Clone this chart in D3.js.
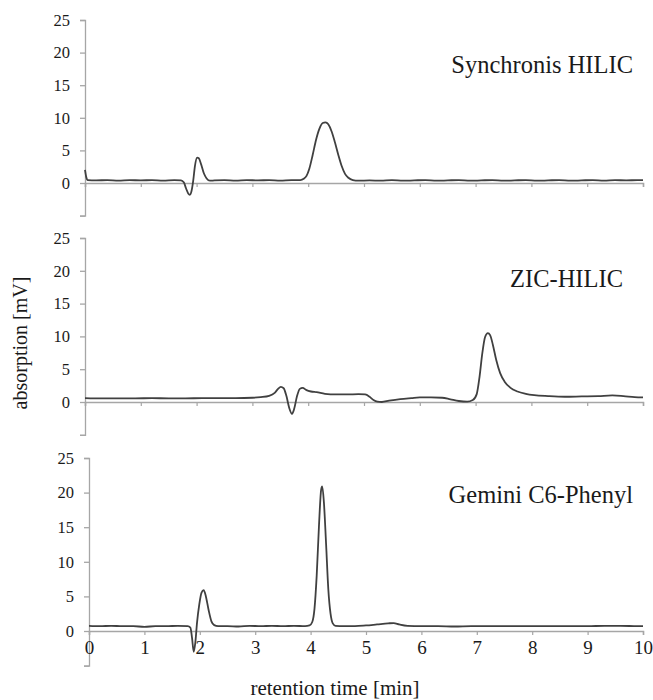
<!DOCTYPE html>
<html>
<head>
<meta charset="utf-8">
<script src="https://cdn.jsdelivr.net/npm/d3@7"></script>
<style>
  html, body { margin: 0; padding: 0; background: #fff; }
  svg { display: block; }
  svg text { font-family: "Liberation Serif", "Times New Roman", "DejaVu Serif", serif !important; }
</style>
</head>
<body>
<svg id="chart" width="653" height="700"></svg>
<script>
// ---------- data (retention time [min], absorption [mV]) ----------
const titles = ["Synchronis HILIC", "ZIC-HILIC", "Gemini C6-Phenyl"];
const xTickValues = [0, 1, 2, 3, 4, 5, 6, 7, 8, 9, 10];
const yTickValues = [-5, 0, 5, 10, 15, 20, 25];
const yDomain = [-5, 25];
const xDomain = [0, 10];

const synchronis = [
  [0.00, 2.0], [0.02, 1.0], [0.05, 0.45], [0.2, 0.4], [0.4, 0.45], [0.6, 0.35], [0.8, 0.45],
  [1.0, 0.4], [1.2, 0.45], [1.4, 0.35], [1.6, 0.45], [1.72, 0.4], [1.77, 0.1], [1.81, -0.8],
  [1.85, -1.6], [1.88, -1.8], [1.91, -1.2], [1.94, 0.4], [1.97, 2.6], [2.01, 3.9], [2.04, 3.8],
  [2.08, 2.9], [2.13, 1.5], [2.18, 0.7], [2.24, 0.35], [2.32, 0.4], [2.5, 0.45], [2.7, 0.35],
  [2.9, 0.45], [3.1, 0.4], [3.3, 0.45], [3.5, 0.35], [3.7, 0.45], [3.86, 0.45], [3.92, 0.65],
  [3.97, 1.1], [4.02, 2.2], [4.08, 4.3], [4.14, 6.6], [4.2, 8.3], [4.26, 9.2], [4.31, 9.3],
  [4.36, 9.0], [4.42, 7.9], [4.48, 6.2], [4.54, 4.3], [4.6, 2.6], [4.66, 1.4], [4.72, 0.8],
  [4.8, 0.45], [4.9, 0.35], [5.1, 0.4], [5.3, 0.35], [5.5, 0.45], [5.7, 0.35], [5.9, 0.4],
  [6.1, 0.45], [6.3, 0.35], [6.5, 0.4], [6.7, 0.45], [6.9, 0.35], [7.1, 0.4], [7.3, 0.45],
  [7.5, 0.35], [7.7, 0.4], [7.9, 0.45], [8.1, 0.35], [8.3, 0.4], [8.5, 0.45], [8.7, 0.35],
  [8.9, 0.4], [9.1, 0.45], [9.3, 0.35], [9.5, 0.45], [9.7, 0.4], [9.9, 0.45], [10.0, 0.45]
];

const zic = [
  [0.0, 0.6], [0.3, 0.55], [0.6, 0.55], [0.9, 0.55], [1.2, 0.6], [1.5, 0.55], [1.8, 0.55],
  [2.1, 0.6], [2.4, 0.6], [2.7, 0.6], [3.0, 0.65], [3.15, 0.75], [3.3, 0.95], [3.4, 1.4],
  [3.46, 2.0], [3.51, 2.3], [3.56, 2.1], [3.61, 0.9], [3.66, -0.9], [3.71, -1.8], [3.75, -1.0],
  [3.8, 0.9], [3.85, 2.0], [3.9, 2.15], [3.97, 1.8], [4.05, 1.6], [4.15, 1.5], [4.3, 1.25],
  [4.5, 1.15], [4.7, 1.15], [4.9, 1.2], [5.02, 1.15], [5.1, 0.8], [5.17, 0.3], [5.24, 0.05],
  [5.32, 0.0], [5.45, 0.2], [5.65, 0.45], [5.85, 0.6], [6.0, 0.7], [6.2, 0.7], [6.4, 0.65],
  [6.55, 0.4], [6.7, 0.15], [6.85, 0.05], [6.95, 0.3], [7.02, 1.2], [7.07, 3.8], [7.12, 7.4],
  [7.17, 9.9], [7.22, 10.5], [7.26, 10.2], [7.31, 8.7], [7.37, 6.4], [7.44, 4.4], [7.52, 3.1],
  [7.62, 2.2], [7.75, 1.6], [7.9, 1.25], [8.05, 1.05], [8.3, 0.9], [8.6, 0.8], [8.9, 0.85],
  [9.2, 0.9], [9.45, 1.0], [9.65, 0.9], [9.85, 0.75], [10.0, 0.7]
];

const gemini = [
  [0.0, 0.75], [0.2, 0.7], [0.4, 0.75], [0.6, 0.7], [0.8, 0.7], [1.0, 0.6], [1.2, 0.7],
  [1.4, 0.7], [1.6, 0.75], [1.78, 0.7], [1.83, 0.5], [1.86, -1.0], [1.89, -3.0], [1.92, -1.6],
  [1.95, 1.2], [1.99, 3.8], [2.03, 5.5], [2.07, 5.9], [2.11, 5.0], [2.16, 3.0], [2.21, 1.4],
  [2.26, 0.85], [2.33, 0.7], [2.5, 0.7], [2.7, 0.65], [2.9, 0.75], [3.1, 0.7], [3.3, 0.75],
  [3.5, 0.7], [3.7, 0.75], [3.9, 0.7], [3.98, 0.8], [4.03, 1.3], [4.07, 3.2], [4.11, 8.0],
  [4.15, 15.0], [4.19, 20.4], [4.21, 20.9], [4.24, 18.6], [4.28, 12.5], [4.32, 6.0],
  [4.36, 2.5], [4.4, 1.1], [4.45, 0.75], [4.6, 0.7], [4.8, 0.7], [5.0, 0.8], [5.2, 0.95],
  [5.4, 1.1], [5.5, 1.15], [5.6, 0.95], [5.75, 0.75], [6.0, 0.7], [6.3, 0.7], [6.6, 0.65],
  [6.9, 0.7], [7.2, 0.7], [7.5, 0.7], [7.8, 0.7], [8.1, 0.7], [8.4, 0.7], [8.7, 0.7],
  [9.0, 0.7], [9.3, 0.75], [9.6, 0.75], [9.9, 0.7], [10.0, 0.7]
];

const series = [synchronis, zic, gemini];

// ---------- layout ----------
const panels = [
  { x0: 85, x1: 643, yBottom: 215.6, yTop: 20,  titleY: 73,  titleX: 633, showX: false },
  { x0: 85, x1: 643, yBottom: 434.8, yTop: 238, titleY: 287, titleX: 623, showX: false },
  { x0: 89, x1: 643, yBottom: 665.6, yTop: 458, titleY: 503, titleX: 633, showX: true }
];

const svg = d3.select("#chart");
const serif = "Liberation Serif";
const axisColor = "#a6a6a6";
const lineColor = "#404040";
const textColor = "#1a1a1a";

function styleText(sel, size) {
  sel.attr("font-family", serif)
     .attr("font-size", size)
     .attr("fill", textColor);
}

panels.forEach((p, i) => {
  const x = d3.scaleLinear().domain(xDomain).range([p.x0, p.x1]);
  const y = d3.scaleLinear().domain(yDomain).range([p.yBottom, p.yTop]);
  const g = svg.append("g");

  // y axis
  const yAxis = d3.axisLeft(y)
    .tickValues(yTickValues)
    .tickSize(5)
    .tickPadding(10)
    .tickFormat(d => d < 0 ? "" : d);
  const ya = g.append("g").attr("transform", `translate(${p.x0},0)`).call(yAxis);
  ya.attr("font-family", serif).attr("font-size", 16.5);
  ya.select(".domain").attr("stroke", axisColor).attr("stroke-width", 1.3);
  ya.selectAll(".tick line").attr("stroke", axisColor).attr("stroke-width", 1.3);
  styleText(ya.selectAll(".tick text"), 16.5);

  // x axis along zero
  const xAxis = d3.axisBottom(x)
    .tickValues(xTickValues)
    .tickSizeOuter(0)
    .tickSize(4)
    .tickPadding(6)
    .tickFormat(d => p.showX ? d : "");
  const xa = g.append("g").attr("transform", `translate(0,${y(0)})`).call(xAxis);
  xa.attr("font-family", serif).attr("font-size", 19);
  xa.select(".domain").attr("stroke", axisColor).attr("stroke-width", 1.5);
  xa.selectAll(".tick line").attr("stroke", axisColor).attr("stroke-width", 1.2);
  styleText(xa.selectAll(".tick text"), 19);

  // trace
  const line = d3.line()
    .x(d => x(d[0]))
    .y(d => y(d[1]))
    .curve(d3.curveMonotoneX);
  g.append("path")
    .datum(series[i])
    .attr("fill", "none")
    .attr("stroke", lineColor)
    .attr("stroke-width", 1.8)
    .attr("stroke-linejoin", "round")
    .attr("d", line);

  // title
  g.append("text")
    .attr("x", p.titleX)
    .attr("y", p.titleY)
    .attr("text-anchor", "end")
    .call(styleText, 24.5)
    .text(titles[i]);
});

// axis titles
svg.append("text")
  .attr("transform", "translate(27,343) rotate(-90)")
  .attr("text-anchor", "middle")
  .call(styleText, 20)
  .text("absorption [mV]");

svg.append("text")
  .attr("x", 335)
  .attr("y", 695)
  .attr("text-anchor", "middle")
  .call(styleText, 21)
  .text("retention time [min]");
</script>
</body>
</html>
